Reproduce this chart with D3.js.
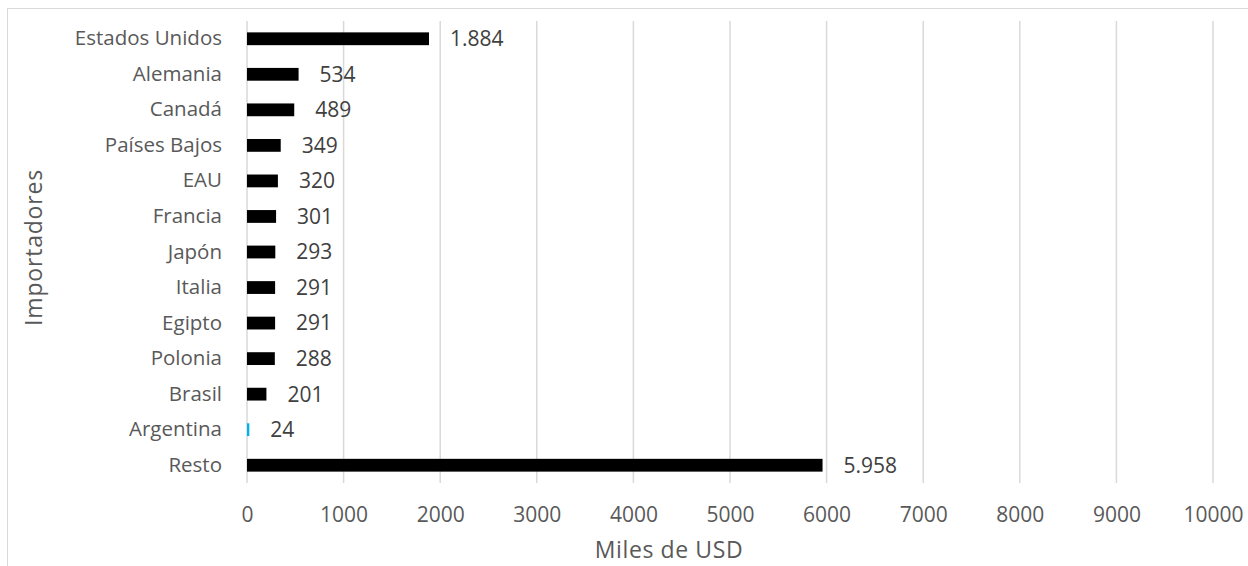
<!DOCTYPE html>
<html><head><meta charset="utf-8">
<script src="https://cdn.jsdelivr.net/npm/d3@7"></script>
<style>body{margin:0;background:#fff}svg{display:block;font-family:"Open Sans",sans-serif}</style>
</head><body><svg id="c" width="1248" height="566"></svg>
<script>
const categories = ["Estados Unidos","Alemania","Canadá","Países Bajos","EAU","Francia","Japón","Italia","Egipto","Polonia","Brasil","Argentina","Resto"];
const values = [1884,534,489,349,320,301,293,291,291,288,201,24,5958];
const highlight = ["Argentina"];
const xTicks = [0,1000,2000,3000,4000,5000,6000,7000,8000,9000,10000];

const svg = d3.select("#c");
const W=1248,H=566;
const m={left:247,right:W-1213,top:21,bottom:H-483};
// outer border
svg.append("rect").attr("x",7.5).attr("y",8.5).attr("width",W).attr("height",H)
  .attr("fill","none").attr("stroke","#d9d9d9").attr("stroke-width",1);

const x=d3.scaleLinear().domain([0,10000]).range([m.left,W-m.right]);
const y=d3.scaleBand().domain(categories).range([m.top,H-m.bottom]).paddingInner(0.64).paddingOuter(0.32);

// gridlines
svg.append("g").selectAll("line").data(xTicks).join("line")
  .attr("x1",d=>x(d)).attr("x2",d=>x(d)).attr("y1",m.top).attr("y2",H-m.bottom)
  .attr("stroke","#d9d9d9").attr("stroke-width",1.5);

// x axis
const xa=svg.append("g").attr("transform",`translate(0,${H-m.bottom})`)
  .call(d3.axisBottom(x).tickValues(xTicks).tickFormat(d3.format("d")).tickSize(0).tickPadding(24));
xa.select(".domain").remove();
xa.selectAll("text").attr("font-size",21).attr("fill","#595959").attr("font-family","Open Sans");

// y axis
const ya=svg.append("g").attr("transform",`translate(${m.left},0)`)
  .call(d3.axisLeft(y).tickSize(0).tickPadding(25));
ya.select(".domain").remove();
ya.selectAll("text").attr("font-size",20.5).attr("fill","#595959").attr("font-family","Open Sans");

// bars
svg.append("g").selectAll("rect").data(categories).join("rect")
  .attr("x",x(0)).attr("y",(d)=>y(d)).attr("height",y.bandwidth())
  .attr("width",(d,i)=>x(values[i])-x(0))
  .attr("fill",d=>highlight.includes(d)?"#00b0f0":"#000");

const fmt=d3.formatLocale({decimal:",",thousands:".",grouping:[3],currency:["$",""]}).format(",d");
svg.append("g").selectAll("text").data(categories).join("text")
  .attr("x",(d,i)=>x(values[i])+21).attr("y",d=>y(d)+y.bandwidth()/2)
  .attr("dy","0.35em").attr("font-size",21).attr("fill","#404040")
  .text((d,i)=>fmt(values[i]));

// axis titles
svg.append("text").attr("x",669).attr("y",550).attr("dy","0.35em")
  .attr("text-anchor","middle").attr("font-size",23).attr("letter-spacing",0.6).attr("fill","#595959").text("Miles de USD");
svg.append("text").attr("transform",`translate(34,247.5) rotate(-90)`)
  .attr("dy","0.35em").attr("text-anchor","middle").attr("font-size",23).attr("letter-spacing",0.8).attr("fill","#595959").text("Importadores");
</script></body></html>
